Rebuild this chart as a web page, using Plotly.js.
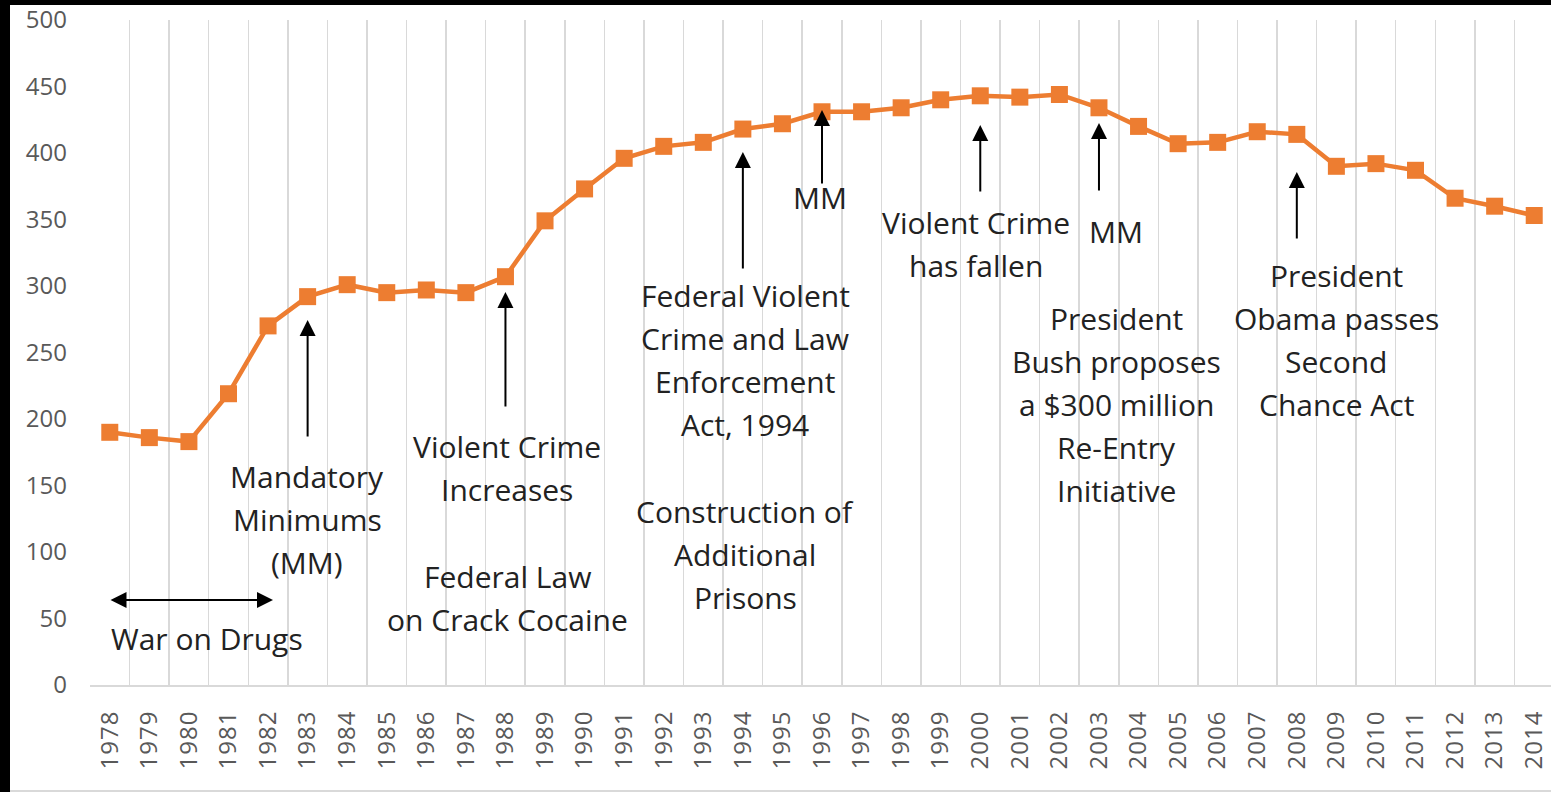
<!DOCTYPE html>
<html>
<head>
<meta charset="utf-8">
<script src="https://cdn.plot.ly/plotly-3.0.1.min.js"></script>
<style>
  html, body { margin: 0; padding: 0; background: #fff; overflow: hidden; width: 1551px; height: 792px; }
  #chart { position: absolute; left: 0; top: 0; width: 1560px; height: 790px; border-bottom: 2px solid #d9d9d9; }
  #bandTop { position: absolute; left: 0; top: 0; width: 1551px; height: 5px; background: #000; }
  #bandLeft { position: absolute; left: 0; top: 0; width: 10px; height: 792px; background: #000; }
  .xtick text { letter-spacing: 1px; }
</style>
</head>
<body>
<div id="chart"></div>
<div id="bandTop"></div>
<div id="bandLeft"></div>
<script>
// ---- data ----
const years = ["1978","1979","1980","1981","1982","1983","1984","1985","1986","1987",
  "1988","1989","1990","1991","1992","1993","1994","1995","1996","1997",
  "1998","1999","2000","2001","2002","2003","2004","2005","2006","2007",
  "2008","2009","2010","2011","2012","2013","2014"];
const rates = [190,186,183,219,270,292,301,295,297,295,
  307,349,373,396,405,408,418,422,431,431,
  434,440,443,442,444,434,420,407,408,416,
  414,390,392,387,366,360,353];
const yTicks = [0,50,100,150,200,250,300,350,400,450,500];

const noteMandatory = ["Mandatory","Minimums","(MM)"];
const noteCrimeUp = ["Violent Crime","Increases"];
const noteCrack = ["Federal Law","on Crack Cocaine"];
const noteWar = ["War on Drugs"];
const noteAct1994 = ["Federal Violent","Crime and Law","Enforcement","Act, 1994"];
const notePrisons = ["Construction of","Additional","Prisons"];
const noteMM1 = ["MM"];
const noteCrimeDown = ["Violent Crime","has fallen"];
const noteMM2 = ["MM"];
const noteBush = ["President","Bush proposes","a $300 million","Re-Entry","Initiative"];
const noteObama = ["President","Obama passes","Second","Chance Act"];

// ---- layout geometry (page pixels) ----
const W = 1560, H = 790;
const M = {l: 90, r: 6, t: 20, b: 105};
const plotW = W - M.l - M.r, plotH = H - M.t - M.b;
const catW = plotW / years.length;
function px2x(px) { return (px - M.l) / catW - 0.5; }
function px2y(py) { return 500 * (M.t + plotH - py) / plotH; }

const textFont = {family: "Open Sans, sans-serif", size: 30, color: "#222222"};
const pitch = 43;

const notes = [
  {lines: noteMandatory, cx: 307, cy: 476},
  {lines: noteCrimeUp, cx: 507, cy: 446},
  {lines: noteCrack, cx: 507, cy: 576},
  {lines: noteWar, cx: 207, cy: 638},
  {lines: noteAct1994, cx: 745, cy: 295},
  {lines: notePrisons, cx: 745, cy: 511},
  {lines: noteMM1, cx: 820, cy: 197},
  {lines: noteCrimeDown, cx: 976, cy: 222},
  {lines: noteMM2, cx: 1116, cy: 231},
  {lines: noteBush, cx: 1116, cy: 318},
  {lines: noteObama, cx: 1336, cy: 275}
];

const annotations = [];
notes.forEach(n => {
  n.lines.forEach((t, i) => {
    annotations.push({
      text: t, showarrow: false,
      x: px2x(n.cx), y: px2y(n.cy + i * pitch),
      xref: "x", yref: "y", xanchor: "center", yanchor: "middle",
      font: textFont
    });
  });
});

const arrows = [
  {cat: "1983", tip: 320, len: 118},
  {cat: "1988", tip: 292, len: 116},
  {cat: "1994", tip: 152, len: 118},
  {cat: "1996", tip: 110, len: 75},
  {cat: "2000", tip: 125, len: 68},
  {cat: "2003", tip: 123, len: 69},
  {cat: "2008", tip: 172, len: 68}
];
arrows.forEach(a => {
  annotations.push({
    text: "", showarrow: true, x: years.indexOf(a.cat), y: px2y(a.tip),
    xref: "x", yref: "y", ax: 0, ay: a.len,
    arrowhead: 2, arrowsize: 1.6, arrowwidth: 2, arrowcolor: "#000", standoff: 0
  });
});
annotations.push({
  text: "", showarrow: true, x: px2x(273), y: px2y(600),
  xref: "x", yref: "y", ax: -164, ay: 0,
  arrowhead: 2, startarrowhead: 2, arrowside: "end+start",
  arrowsize: 1.6, startarrowsize: 1.6, arrowwidth: 2, arrowcolor: "#000", standoff: 0, startstandoff: 0
});

const trace = {
  type: "scatter", mode: "lines+markers",
  x: years, y: rates,
  line: {color: "#ED7D31", width: 4.5},
  marker: {symbol: "square", size: 17, color: "#ED7D31"},
  hoverinfo: "skip", cliponaxis: false
};

const layout = {
  width: W, height: H,
  margin: M,
  paper_bgcolor: "#ffffff", plot_bgcolor: "#ffffff",
  showlegend: false, hovermode: false,
  xaxis: {
    type: "category", range: [-0.5, years.length - 0.5],
    tickson: "boundaries", ticks: "", showgrid: true, gridcolor: "#d9d9d9", gridwidth: 1.5,
    showline: true, linecolor: "#d9d9d9", linewidth: 2,
    tickangle: -90, ticklabelstandoff: 14,
    tickfont: {family: "Open Sans, sans-serif", size: 24, color: "#595959"},
    zeroline: false, fixedrange: true
  },
  yaxis: {
    range: [0, 500.001], tickmode: "array", tickvals: yTicks, ticktext: yTicks.map(String),
    showgrid: false, zeroline: false, showline: false, ticks: "",
    ticklabelstandoff: 22, ticklabeloverflow: "allow",
    tickfont: {family: "Open Sans, sans-serif", size: 24, color: "#595959"},
    fixedrange: true
  },
  annotations: annotations
};

Plotly.newPlot("chart", [trace], layout, {displayModeBar: false, staticPlot: true});
</script>
</body>
</html>
